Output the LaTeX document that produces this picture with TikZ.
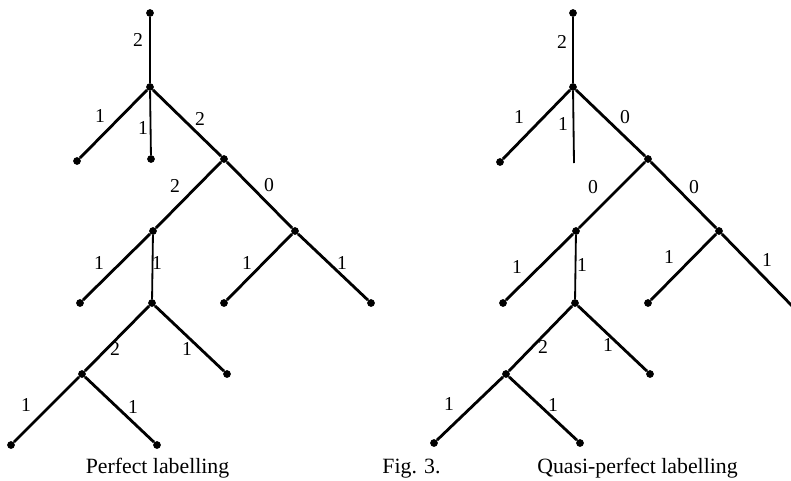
\documentclass[tikz,border=0pt]{standalone}
\usepackage{fontspec}
\setmainfont{Liberation Serif}

\begin{document}
\begin{tikzpicture}[x=0.025cm, y=-0.025cm,
    vtx/.style={circle, fill=black, inner sep=0pt, minimum size=5.5pt},
    branch/.style={line width=2pt},
    stem/.style={line width=1.3pt},
    lab/.style={inner sep=0pt, font=\fontsize{14}{16}\selectfont},
    caption/.style={anchor=base, inner sep=0pt, font=\fontsize{15.5}{18}\selectfont}]
    \useasboundingbox (0,0) rectangle (791,481);

    % Perfect labelling (left tree)
    \node[vtx] (pT) at (150,13) {};
    \node[vtx] (pA) at (150,87) {};
    \node[vtx] (pL1) at (77,161) {};
    \node[vtx] (pL2) at (151,159) {};
    \node[vtx] (pB) at (224,159) {};
    \node[vtx] (pC) at (153,231) {};
    \node[vtx] (pD) at (295,231) {};
    \node[vtx] (pCl) at (80,303) {};
    \node[vtx] (pE) at (152,303) {};
    \node[vtx] (pDl) at (224,303) {};
    \node[vtx] (pDr) at (371,303) {};
    \node[vtx] (pF) at (82,374) {};
    \node[vtx] (pEr) at (227,374) {};
    \node[vtx] (pFl) at (11,445) {};
    \node[vtx] (pFr) at (157,445) {};

    \draw[stem] (pT) -- (pA);
    \draw[branch] (pA) -- (pL1);
    \draw[stem] (pA) -- (pL2);
    \draw[branch] (pA) -- (pB);
    \draw[branch] (pB) -- (pC);
    \draw[branch] (pB) -- (pD);
    \draw[branch] (pC) -- (pCl);
    \draw[stem] (pC) -- (pE);
    \draw[branch] (pD) -- (pDl);
    \draw[branch] (pD) -- (pDr);
    \draw[branch] (pE) -- (pF);
    \draw[branch] (pE) -- (pEr);
    \draw[branch] (pF) -- (pFl);
    \draw[branch] (pF) -- (pFr);

    \node[lab] (pn1) at (138,40) {2};
    \node[lab] (pn2) at (100,116) {1};
    \node[lab] (pn3) at (143,128) {1};
    \node[lab] (pn4) at (200,119) {2};
    \node[lab] (pn5) at (175,186) {2};
    \node[lab] (pn6) at (269,185) {0};
    \node[lab] (pn7) at (99,263) {1};
    \node[lab] (pn8) at (157,263) {1};
    \node[lab] (pn9) at (247,263) {1};
    \node[lab] (pn10) at (342,263) {1};
    \node[lab] (pn11) at (115,349) {2};
    \node[lab] (pn12) at (187,349) {1};
    \node[lab] (pn13) at (26,405) {1};
    \node[lab] (pn14) at (133,407) {1};

    % Quasi-perfect labelling (right tree)
    \node[vtx] (qT) at (573,13) {};
    \node[vtx] (qA) at (573,87) {};
    \node[vtx] (qL1) at (500,162) {};
    \coordinate (qL2) at (574,163);
    \node[vtx] (qB) at (648,159) {};
    \node[vtx] (qC) at (576,231) {};
    \node[vtx] (qD) at (719,231) {};
    \node[vtx] (qCl) at (503,303) {};
    \node[vtx] (qE) at (575,303) {};
    \node[vtx] (qDl) at (648,303) {};
    \coordinate (qDr) at (797,311);
    \node[vtx] (qF) at (506,374) {};
    \node[vtx] (qEr) at (650,374) {};
    \node[vtx] (qFl) at (434,443) {};
    \node[vtx] (qFr) at (580,443) {};

    \draw[stem] (qT) -- (qA);
    \draw[branch] (qA) -- (qL1);
    \draw[stem] (qA) -- (qL2);
    \draw[branch] (qA) -- (qB);
    \draw[branch] (qB) -- (qC);
    \draw[branch] (qB) -- (qD);
    \draw[branch] (qC) -- (qCl);
    \draw[stem] (qC) -- (qE);
    \draw[branch] (qD) -- (qDl);
    \draw[branch] (qD) -- (qDr);
    \draw[branch] (qE) -- (qF);
    \draw[branch] (qE) -- (qEr);
    \draw[branch] (qF) -- (qFl);
    \draw[branch] (qF) -- (qFr);

    \node[lab] (qn1) at (562,42) {2};
    \node[lab] (qn2) at (519,117) {1};
    \node[lab] (qn3) at (563,124) {1};
    \node[lab] (qn4) at (625,117) {0};
    \node[lab] (qn5) at (593,187) {0};
    \node[lab] (qn6) at (694,187) {0};
    \node[lab] (qn7) at (517,267) {1};
    \node[lab] (qn8) at (582,265) {1};
    \node[lab] (qn9) at (669,257) {1};
    \node[lab] (qn10) at (767,260) {1};
    \node[lab] (qn11) at (543,347) {2};
    \node[lab] (qn12) at (608,345) {1};
    \node[lab] (qn13) at (449,404) {1};
    \node[lab] (qn14) at (553,405) {1};

    % captions
    \node[caption] (capP) at (157.5,473) {Perfect labelling};
    \node[caption] (capF) at (411.5,473) {Fig. 3.};
    \node[caption] (capQ) at (637.5,473) {Quasi-perfect labelling};
\end{tikzpicture}
\end{document}
